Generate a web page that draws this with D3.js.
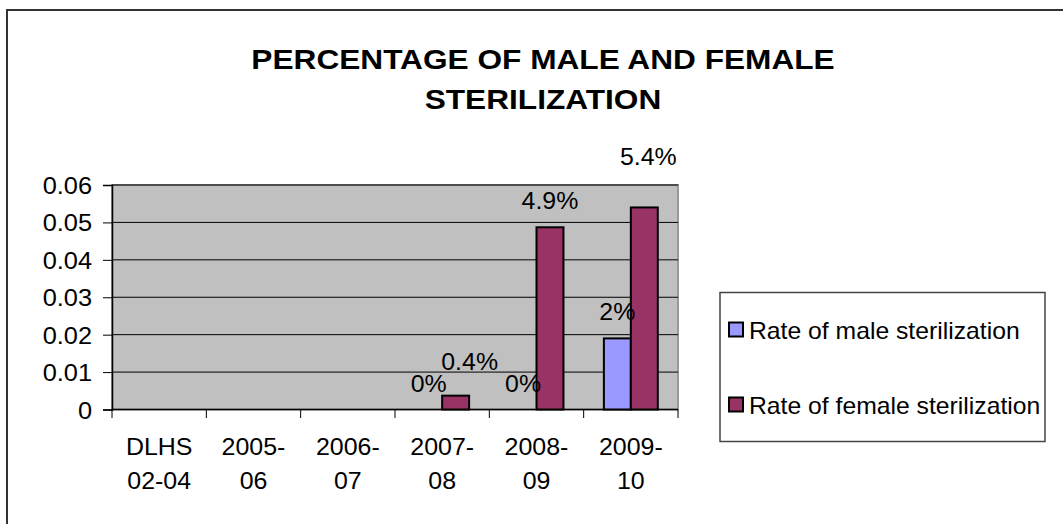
<!DOCTYPE html>
<html>
<head>
<meta charset="utf-8">
<script src="https://cdn.jsdelivr.net/npm/d3@7"></script>
<style>
  body { margin: 0; background: #fff; }
  text { font-family: Arial, "Liberation Sans", sans-serif; fill: #000; }
</style>
</head>
<body>
<script>
const width = 1063
const height = 524

// data
const categories = ["DLHS 02-04", "2005-06", "2006-07", "2007-08", "2008-09", "2009-10"]
const catLines = [["DLHS", "02-04"], ["2005-", "06"], ["2006-", "07"], ["2007-", "08"], ["2008-", "09"], ["2009-", "10"]]
const seriesNames = ["Rate of male sterilization", "Rate of female sterilization"]
const maleRate = [null, null, null, 0, 0, 0.019]
const femaleRate = [null, null, null, 0.0037, 0.0487, 0.054]
const yTicks = [0, 0.01, 0.02, 0.03, 0.04, 0.05, 0.06]

const colors = ["#9999ff", "#993366"]
const labelFormats = [d3.format(".0%"), d3.format(".1%")]
// Excel moved a couple of labels to dodge overlaps
const labelNudge = {"1-3": [14, -8], "1-5": [4, -24]}

const rows = categories.map((c, i) => ({cat: c, values: [maleRate[i], femaleRate[i]]}))

const svg = d3.select("body").append("svg")
  .attr("width", width)
  .attr("height", height)

// chart frame
svg.append("rect")
  .attr("x", 7).attr("y", 10)
  .attr("width", width + 10).attr("height", height + 10)
  .attr("fill", "#fff")
  .attr("stroke", "#333")
  .attr("stroke-width", 2)

// horizontally stretched text, like the original
function txt(g, x, y, s, size, sx) {
  return g.append("text")
    .attr("transform", `translate(${x},${y}) scale(${sx},1)`)
    .attr("font-size", size)
    .text(s)
}

const title = svg.append("g").attr("text-anchor", "middle")
txt(title, 543, 69, "PERCENTAGE OF MALE AND FEMALE", 28, 1.13).attr("font-weight", "bold")
txt(title, 543, 109, "STERILIZATION", 28, 1.13).attr("font-weight", "bold")

const x = d3.scaleBand().domain(categories).range([112, 678])
const xs = d3.scaleBand().domain([0, 1]).range([0, x.bandwidth()]).paddingOuter(0.75)
const y = d3.scaleLinear().domain([0, 0.06]).range([409.5, 185])

// plot area
svg.append("rect")
  .attr("x", 112).attr("y", 185)
  .attr("width", 678 - 112).attr("height", 409.5 - 185)
  .attr("fill", "#c0c0c0")
  .attr("stroke", "#999")
  .attr("stroke-width", 2)

svg.append("g")
  .selectAll("line")
  .data(yTicks.slice(1))
  .join("line")
  .attr("x1", 112).attr("x2", 678)
  .attr("y1", d => y(d)).attr("y2", d => y(d))
  .attr("stroke", "#000")
  .attr("stroke-width", 1)

// y axis
const yAxis = svg.append("g")
  .attr("transform", "translate(112,0)")
  .call(d3.axisLeft(y).tickValues(yTicks).tickSize(9).tickPadding(11)
    .tickFormat(d => d === 0 ? "0" : d3.format(".2f")(d)))
yAxis.select(".domain").attr("stroke", "#000").attr("stroke-width", 1.5)
yAxis.selectAll(".tick line").attr("stroke", "#000")
yAxis.selectAll(".tick text").remove()
yAxis.selectAll(".tick").each(function(d) {
  txt(d3.select(this), -20, 8.5, d === 0 ? "0" : d3.format(".2f")(d), 23.5, 1.08)
    .attr("text-anchor", "end")
})

// x axis, ticks at category boundaries
svg.append("g")
  .selectAll("line")
  .data(categories.map(c => x(c)).concat([678]))
  .join("line")
  .attr("x1", d => d).attr("x2", d => d)
  .attr("y1", 409.5).attr("y2", 418)
  .attr("stroke", "#000")
svg.append("line")
  .attr("x1", 112).attr("x2", 678)
  .attr("y1", 409.5).attr("y2", 409.5)
  .attr("stroke", "#000").attr("stroke-width", 1.5)

const xl = svg.append("g").attr("text-anchor", "middle")
catLines.forEach((lines, i) => {
  const cx = x(categories[i]) + x.bandwidth() / 2
  lines.forEach((s, j) => txt(xl, cx, 455 + j * 34, s, 24, 1.04))
})

// bars
const bars = svg.append("g")
rows.forEach(r => {
  r.values.forEach((v, s) => {
    if (v === null || v === 0) return
    bars.append("rect")
      .attr("x", x(r.cat) + xs(s))
      .attr("y", y(v))
      .attr("width", xs.bandwidth())
      .attr("height", y(0) - y(v))
      .attr("fill", colors[s])
      .attr("stroke", "#000")
      .attr("stroke-width", 2)
  })
})

// data labels
const labels = svg.append("g").attr("text-anchor", "middle")
rows.forEach((r, i) => {
  r.values.forEach((v, s) => {
    if (v === null) return
    const n = labelNudge[s + "-" + i] || [0, 0]
    txt(labels, x(r.cat) + xs(s) + xs.bandwidth() / 2 + n[0], y(v) - 18 + n[1],
      labelFormats[s](v), 23.5, 1.06)
  })
})

// legend
const lg = svg.append("g")
lg.append("rect")
  .attr("x", 720).attr("y", 292.5)
  .attr("width", 325).attr("height", 149)
  .attr("fill", "#fff")
  .attr("stroke", "#444")
  .attr("stroke-width", 1.5)
seriesNames.forEach((name, i) => {
  const cy = 330 + i * 75
  lg.append("rect")
    .attr("x", 729).attr("y", cy - 7.5)
    .attr("width", 14).attr("height", 14)
    .attr("fill", colors[i])
    .attr("stroke", "#000")
    .attr("stroke-width", 2)
  txt(lg, 749, cy + 8.5, name, 24, 1.03)
})
</script>
</body>
</html>
